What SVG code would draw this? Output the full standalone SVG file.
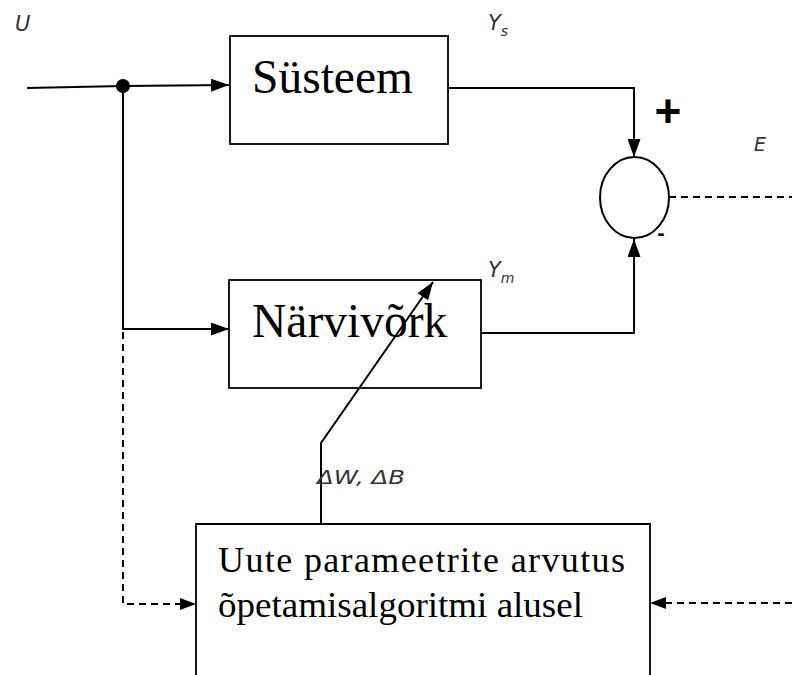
<svg xmlns="http://www.w3.org/2000/svg" width="792" height="675" viewBox="0 0 792 675">
<defs>
<style>
.box{fill:none;stroke:#000;stroke-width:1.8}
.ln{fill:none;stroke:#000;stroke-width:2}
.dash{fill:none;stroke:#000;stroke-width:2;stroke-dasharray:7,5}
.serif{font-family:"Liberation Serif","Times New Roman",serif;fill:#000}
.lbl{font-family:"DejaVu Sans","Liberation Sans",sans-serif;font-style:italic;fill:#333}
.sign{font-family:"Liberation Sans",Arial,sans-serif;font-weight:bold;fill:#000}
</style>
<marker id="ah" markerWidth="18" markerHeight="13" refX="18" refY="6.5" orient="auto" markerUnits="userSpaceOnUse">
<path d="M0,0 L18,6.5 L0,13 Z" fill="#000"/>
</marker>
<marker id="ahs" markerWidth="16" markerHeight="12" refX="16" refY="6" orient="auto" markerUnits="userSpaceOnUse">
<path d="M0,0 L16,6 L0,12 Z" fill="#000"/>
</marker>
</defs>
<rect width="792" height="675" fill="#fff"/>

<g id="node-systeem">
<rect class="box" x="230" y="36" width="218" height="108"/>
<text class="serif" x="252" y="93" font-size="47.5">Süsteem</text>
</g>

<g id="node-narvivork">
<rect class="box" x="229" y="280" width="252" height="108"/>
<text class="serif" x="252" y="337" font-size="47.5">Närvivõrk</text>
</g>

<g id="node-sum">
<ellipse cx="634.5" cy="197.5" rx="34.5" ry="40.5" fill="none" stroke="#000" stroke-width="2"/>
<text class="sign" x="668" y="127" font-size="46" text-anchor="middle">+</text>
<text class="sign" x="661" y="240" font-size="22" text-anchor="middle">-</text>
</g>

<g id="node-update">
<path class="box" d="M196,676 L196,524 L650,524 L650,676"/>
<text class="serif" x="218" y="572" font-size="36" textLength="407" lengthAdjust="spacing">Uute parameetrite arvutus</text>
<text class="serif" x="218" y="617" font-size="36" textLength="365" lengthAdjust="spacingAndGlyphs">õpetamisalgoritmi alusel</text>
</g>

<g id="connectors">
<line class="ln" x1="27" y1="88" x2="123" y2="86"/>
<line class="ln" x1="123" y1="86" x2="229" y2="85" marker-end="url(#ah)"/>
<circle cx="123" cy="86" r="7" fill="#000"/>
<polyline class="ln" points="123,86 123,329 229,329" marker-end="url(#ah)"/>
<polyline class="dash" points="123,332 123,604 196,604" marker-end="url(#ahs)"/>
<polyline class="ln" points="448,88 634,88 634,157" marker-end="url(#ah)"/>
<polyline class="ln" points="481,333 634,333 634,239" marker-end="url(#ah)"/>
<line class="dash" x1="669" y1="197" x2="792" y2="197"/>
<line class="dash" x1="792" y1="603" x2="650" y2="603" marker-end="url(#ahs)"/>
<polyline class="ln" points="321,524 321,443 433,282" marker-end="url(#ah)"/>
</g>

<g id="labels">
<text class="lbl" x="15" y="31" font-size="21">U</text>
<text class="lbl" x="488" y="30" font-size="21">Y<tspan font-size="14" dy="6">s</tspan></text>
<text class="lbl" x="488" y="277" font-size="21">Y<tspan font-size="14" dy="6">m</tspan></text>
<text class="lbl" x="754" y="151" font-size="19">E</text>
<text class="lbl" x="317" y="484" font-size="19" textLength="88" lengthAdjust="spacingAndGlyphs">ΔW, ΔB</text>
</g>
</svg>
